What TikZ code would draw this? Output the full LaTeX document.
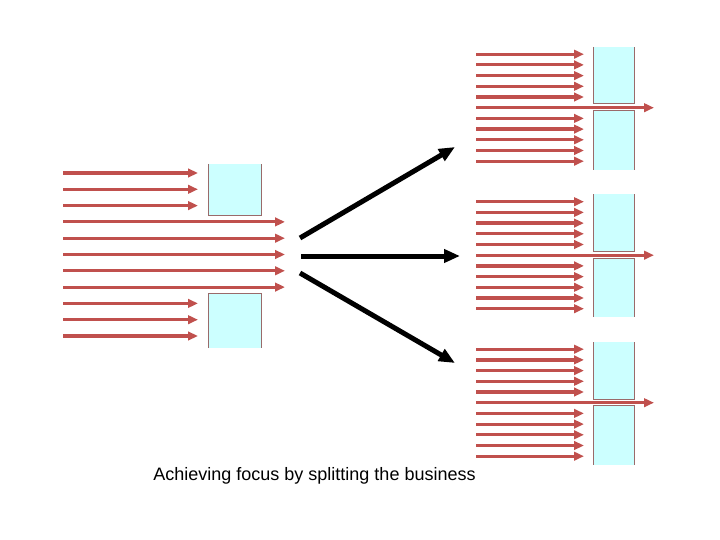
\documentclass[tikz,border=0pt]{standalone}
\usepackage{fontspec}
\setmainfont{Liberation Sans}
\usetikzlibrary{arrows.meta}
\definecolor{flowred}{HTML}{C0504D}
\definecolor{boxcyan}{HTML}{CCFFFF}
\definecolor{boxedge}{HTML}{9A6A6A}

\begin{document}
\begin{tikzpicture}[x=1pt,y=-1pt,
  flow/.style={flowred, line width=3.2pt, -{Triangle[length=10pt,width=8.5pt]}},
  split/.style={black, line width=5pt, -{Triangle[length=16pt,width=13pt]}},
  boxwall/.style={boxedge, line width=1pt}]
\useasboundingbox (0,0) rectangle (720,540);

\fill[boxcyan] (208,164) rectangle (261,216);
\draw[boxwall] (208,164) -- (208,216) -- (261,216) -- (261,164);
\fill[boxcyan] (208,293) rectangle (261,348);
\draw[boxwall] (208,348) -- (208,293) -- (261,293) -- (261,348);
\foreach \i in {0,1,2,8,9,10}
  \draw[flow] (63,173+16.3*\i) -- (198,173+16.3*\i);
\foreach \i in {3,...,7}
  \draw[flow] (63,173+16.3*\i) -- (285,173+16.3*\i);

\foreach \g in {0,1,2} {
  \pgfmathsetmacro{\ym}{107.7+147.5*\g}
  \fill[boxcyan] (593,\ym-60.7) rectangle (634,\ym-3.7);
  \draw[boxwall] (593,\ym-60.7) -- (593,\ym-3.7) -- (634,\ym-3.7) -- (634,\ym-60.7);
  \fill[boxcyan] (593,\ym+3) rectangle (634,\ym+62);
  \draw[boxwall] (593,\ym+62) -- (593,\ym+3) -- (634,\ym+3) -- (634,\ym+62);
  \foreach \k in {0,...,4,6,7,8,9,10}
    \draw[flow] (476,\ym+10.7*\k-53.5) -- (584,\ym+10.7*\k-53.5);
  \draw[flow] (476,\ym) -- (654,\ym);
}

\coordinate (upfrom) at (300,238);
\coordinate (upto) at (455,147);
\coordinate (midfrom) at (301,256);
\coordinate (midto) at (460,256);
\coordinate (downfrom) at (300,273);
\coordinate (downto) at (455,363);
\draw[split] (upfrom) -- (upto);
\draw[split] (midfrom) -- (midto);
\draw[split] (downfrom) -- (downto);

\node (caption) at (314.5,476) {\fontsize{18}{21}\selectfont Achieving focus by splitting the business};
\end{tikzpicture}
\end{document}
